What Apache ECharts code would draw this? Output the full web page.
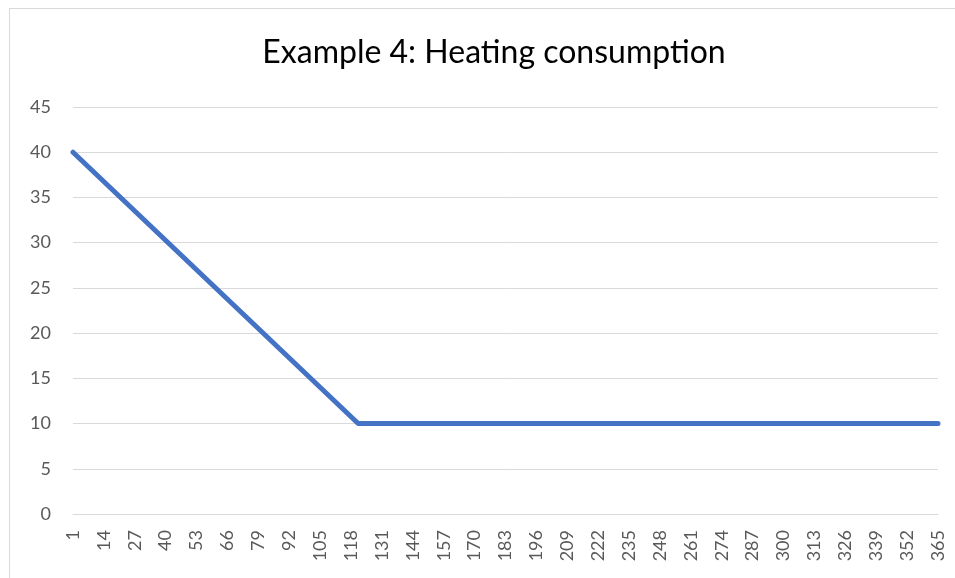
<!DOCTYPE html>
<html>
<head>
<meta charset="utf-8">
<script src="https://cdn.jsdelivr.net/npm/echarts@6/dist/echarts.min.js"></script>
<style>
  html, body { margin: 0; padding: 0; background: #fff; }
  #frame { position: absolute; left: 9px; top: 8px; width: 1000px; height: 600px; border: 1px solid #d9d9d9; }
  #chart { position: absolute; left: 0; top: 0; width: 955px; height: 578px; }
</style>
</head>
<body>
<div id="frame"></div>
<div id="chart"></div>
<script>
// days where the curve changes, and the consumption read at each
var days = [1, 121, 365];
var consumption = [40, 10, 10];
var yTicks = [0, 5, 10, 15, 20, 25, 30, 35, 40, 45];

var myChart = echarts.init(document.getElementById("chart"));
var option = {
  animation: false,
  title: {
    text: "Example 4: Heating consumption",
    left: 489,
    top: 32,
    textAlign: "center",
    textStyle: {
      fontFamily: "Lato",
      fontWeight: "normal",
      fontSize: 32,
      color: "#000",
    },
  },
  grid: {
    left: 73,
    right: 17,
    top: 107,
    bottom: 64,
  },
  xAxis: {
    type: "value",
    min: days[0],
    max: days[days.length - 1],
    interval: 13,
    axisLine: { lineStyle: { color: "#d9d9d9", width: 1 } },
    axisTick: { show: false },
    splitLine: { show: false },
    axisLabel: {
      rotate: 90,
      margin: 16,
      color: "#595959",
      fontFamily: "Lato",
      fontSize: 18,
      showMinLabel: true,
      showMaxLabel: true,
    },
  },
  yAxis: {
    type: "value",
    min: yTicks[0],
    max: yTicks[yTicks.length - 1],
    interval: 5,
    axisLine: { show: false },
    axisTick: { show: false },
    splitLine: { lineStyle: { color: "#d9d9d9", width: 1 } },
    axisLabel: {
      margin: 22,
      color: "#595959",
      fontFamily: "Lato",
      fontSize: 18,
    },
  },
  series: [
    {
      type: "line",
      showSymbol: false,
      lineStyle: { color: "#4472c4", width: 5, cap: "round", join: "round" },
      data: days.map(function (d, i) {
        return [d, consumption[i]];
      }),
    },
  ],
};
myChart.setOption(option);
</script>
</body>
</html>
